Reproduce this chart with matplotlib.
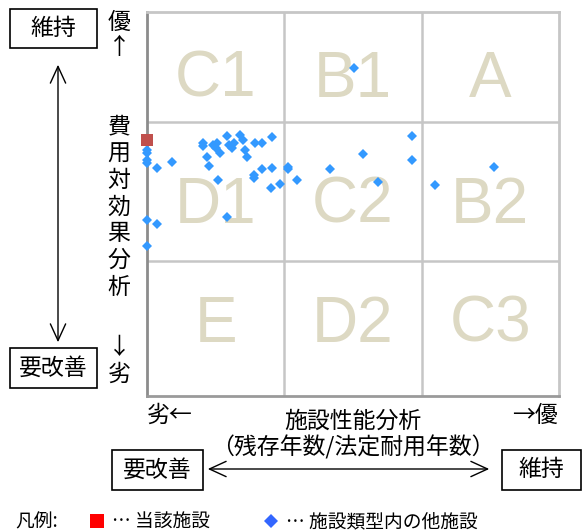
import matplotlib
matplotlib.use("Agg")
import matplotlib.pyplot as plt
from matplotlib.patches import Rectangle, FancyArrowPatch
from matplotlib.lines import Line2D

# ---- data (x: 施設性能分析 score, y: 費用対効果分析 score) ----
target_x = [0.00]
target_y = [2.00]

others_x = [0.00, 0.00, 0.00, 0.00, 0.07, 0.18, 0.00, 0.07, 0.00,
            0.41, 0.41, 0.44, 0.45, 0.48, 0.51, 0.50, 0.53, 0.58, 0.60,
            0.63, 0.62, 0.68, 0.70, 0.71, 0.73, 0.79, 0.84, 0.91, 0.52,
            0.58, 0.78, 0.78, 0.84, 0.91, 0.90, 0.97, 1.03, 1.03, 1.09,
            1.33, 1.57, 1.68, 1.93, 1.93, 2.10, 2.53, 1.51]
others_y = [1.92, 1.90, 1.84, 1.82, 1.78, 1.83, 1.375, 1.34, 1.17,
            1.98, 1.95, 1.87, 1.80, 1.96, 1.98, 1.94, 1.90, 2.03, 1.96,
            1.98, 1.94, 2.04, 2.00, 1.92, 1.87, 1.98, 1.98, 2.02, 1.69,
            1.40, 1.73, 1.70, 1.77, 1.78, 1.625, 1.66, 1.79, 1.77, 1.69,
            1.77, 1.89, 1.67, 2.03, 1.84, 1.65, 1.79, 2.56]

# zone boundaries and zone names
x_bounds = [1.0, 2.0]
y_bounds = [1.055, 2.14]
cell_labels = [["C1", "B1", "A"],
               ["D1", "C2", "B2"],
               ["E", "D2", "C3"]]
label_x = [0.5, 1.5, 2.5]
label_baseline_y = [2.336, 1.352, 0.422]

W, H = 582, 532
JP = ['Noto Sans CJK JP', 'DejaVu Sans']

fig = plt.figure(figsize=(W / 100, H / 100), dpi=100)
fig.patch.set_facecolor('white')

ax = fig.add_axes([147 / W, 1 - 396 / H, 412 / W, 384 / H])
ax.set_xlim(0, 3)
ax.set_ylim(0, 3)
ax.set_xticks([])
ax.set_yticks([])
for v in x_bounds:
    ax.axvline(v, color='#c6c6c6', lw=1.8, zorder=1)
for v in y_bounds:
    ax.axhline(v, color='#c6c6c6', lw=1.8, zorder=1)
ax.spines['left'].set_color('#8c8c8c')
ax.spines['bottom'].set_color('#9a9a9a')
ax.spines['top'].set_color('#c6c6c6')
ax.spines['right'].set_color('#c6c6c6')
for s in ax.spines.values():
    s.set_linewidth(2)

# cell labels
for r, row in enumerate(cell_labels):
    for c, lab in enumerate(row):
        ax.text(label_x[c], label_baseline_y[r], lab,
                ha='center', va='baseline', fontsize=46,
                family='Liberation Sans', color='#ddd9c3', zorder=2)

ax.plot(others_x, others_y, linestyle='none', marker='D', markersize=5.2,
        color='#3399ff', markeredgewidth=0, zorder=4, clip_on=False)
ax.plot(target_x, target_y, linestyle='none', marker='s', markersize=8.5,
        color='#c0504d', markeredgewidth=0, zorder=5, clip_on=False)


def fx(px):
    return px / W


def fy(py):
    return 1 - py / H


def ftext(px, py, s, size=16.5, ha='center', **kw):
    fig.text(fx(px), fy(py), s, ha=ha, va='center', fontsize=size,
             family=JP, color='black', **kw)


def box(x0, y0, x1, y1):
    fig.add_artist(Rectangle((fx(x0), fy(y1)), (x1 - x0) / W, (y1 - y0) / H,
                             transform=fig.transFigure, fill=False,
                             edgecolor='black', lw=1.2))


def darrow(p0, p1):
    fig.add_artist(FancyArrowPatch((fx(p0[0]), fy(p0[1])), (fx(p1[0]), fy(p1[1])),
                                   transform=fig.transFigure,
                                   arrowstyle='<->,head_length=1.2,head_width=0.55',
                                   mutation_scale=10, color='black', lw=1.0))


# left side
box(10, 9, 97, 48)
ftext(53.5, 28.5, '維持')
box(10, 348, 97, 388)
ftext(53.5, 368, '要改善')
darrow((58, 62), (58, 345))
ftext(119, 22, '優')
ftext(119, 47, '↑')
for i, ch in enumerate('費用対効果分析'):
    ftext(119, 127 + i * 26.7, ch)
ftext(119, 348, '↓')
ftext(119, 374, '劣')

# bottom
ftext(170, 415, '劣←')
ftext(535, 415, '→優')
ftext(353, 421, '施設性能分析')
ftext(353, 447, '（残存年数/法定耐用年数）')
box(112, 450, 203, 490)
ftext(157.5, 470, '要改善')
box(502, 450, 581, 490)
ftext(541.5, 470, '維持')
darrow((205, 469), (492, 469))

# legend
ftext(15, 522, '凡例:', size=13.5, ha='left')
fig.add_artist(Line2D([fx(97)], [fy(521)], marker='s', markersize=9.5,
                      color='#ff0000', markeredgewidth=0,
                      transform=fig.transFigure))
ftext(112, 522, '… 当該施設', size=13.5, ha='left')
fig.add_artist(Line2D([fx(271)], [fy(521)], marker='D', markersize=7.5,
                      color='#3366ff', markeredgewidth=0,
                      transform=fig.transFigure))
ftext(286, 522, '… 施設類型内の他施設', size=13.5, ha='left')

fig.savefig('out.png', dpi=100, facecolor='white')
